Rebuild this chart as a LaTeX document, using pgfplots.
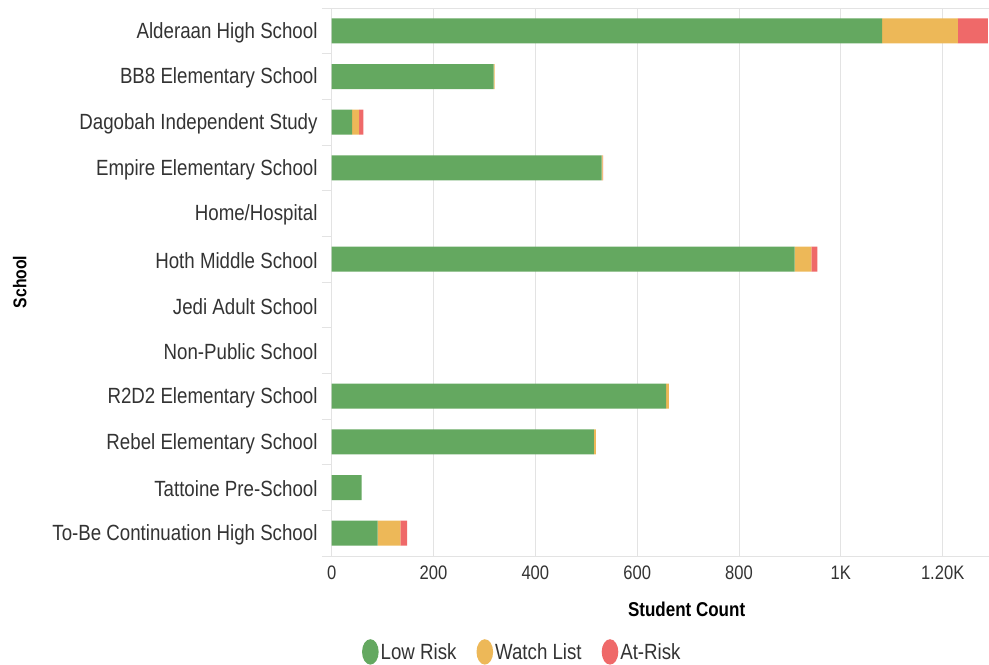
\documentclass[border=0pt]{standalone}
\usepackage{pgfplots}
\pgfplotsset{compat=1.18}
\usepackage{pgfplotstable}
\usepackage{fontspec}
\setmainfont{Liberation Sans}[FakeStretch=0.85]

\definecolor{lowrisk}{HTML}{64A860}
\definecolor{watch}{HTML}{EDB858}
\definecolor{atrisk}{HTML}{EF6969}
\definecolor{gridgray}{HTML}{E3E3E3}
\definecolor{labelgray}{HTML}{333333}

% student counts per school: low risk, watch list, at-risk
\pgfplotstableread{
idx low watch risk
0  1081 149 59
1  318  2   0
2  40   14  8
3  530  2   1
4  0    0   0
5  909  33  12
6  0    0   0
7  0    0   0
8  657  5   0
9  515  4   0
10 59   0   0
11 90   45  13
}\schools

\begin{document}
\begin{tikzpicture}
\begin{axis}[
  xbar stacked,
  scale only axis,
  width=657.3pt, height=548pt,
  at={(0,0)}, anchor=south west,
  xmin=0, xmax=1291,
  ymin=-0.5, ymax=11.5,
  y dir=reverse,
  bar width=25pt,
  axis x line*=box, axis y line*=left,
  axis line style={-, gridgray, line width=1pt},
  xmajorgrids,
  grid style={gridgray, line width=1pt},
  xtick={0,200,...,1200},
  xticklabels={0,200,400,600,800,1K,1.20K},
  ytick={0,...,11},
  yticklabels={Alderaan High School, BB8 Elementary School, Dagobah Independent Study,
    Empire Elementary School, Home/Hospital, Hoth Middle School, Jedi Adult School,
    Non-Public School, R2D2 Elementary School, Rebel Elementary School,
    Tattoine Pre-School, To-Be Continuation High School},
  minor ytick={-0.5,0.5,...,11.5},
  major tick length=0pt,
  minor tick length=10pt,
  tick align=outside,
  minor tick style={gridgray, line width=1pt},
  xtick pos=bottom,
  yticklabel style={font=\fontsize{22}{24}\selectfont, text=labelgray, inner sep=0pt, xshift=-14pt, yshift=-1.5pt},
  xticklabel style={font=\fontsize{19.5}{22}\selectfont, text=labelgray, inner sep=0pt, yshift=-10pt},
  xlabel={Student Count},
  xlabel style={font=\bfseries\fontsize{20}{22}\selectfont, at={(axis description cs:0.540,-0.0967)}, anchor=center},
  ylabel={School},
  ylabel style={font=\bfseries\fontsize{18.5}{20}\selectfont, at={(axis description cs:-0.4745,0.5)}, anchor=center},
  legend style={at={(axis description cs:0.290,-0.175)}, anchor=center, draw=none,
    font=\fontsize{22}{24}\selectfont, text=labelgray,
    /tikz/every even column/.append style={column sep=18pt}},
  legend columns=3,
  legend cell align=left,
  every axis plot post/.append style={legend image code/.code={\fill[##1] (4pt,0pt) ellipse (8.3pt and 12.7pt);}},
]
\addplot[fill=lowrisk, draw=none] table[x=low, y=idx]{\schools};
\addplot[fill=watch, draw=none] table[x=watch, y=idx]{\schools};
\addplot[fill=atrisk, draw=none] table[x=risk, y=idx]{\schools};
\legend{Low Risk, Watch List, At-Risk}
\end{axis}
\pgfresetboundingbox
\path ([xshift=-331.7pt,yshift=-108pt]current axis.south west) rectangle ([yshift=8pt]current axis.north east);
\end{tikzpicture}
\end{document}
